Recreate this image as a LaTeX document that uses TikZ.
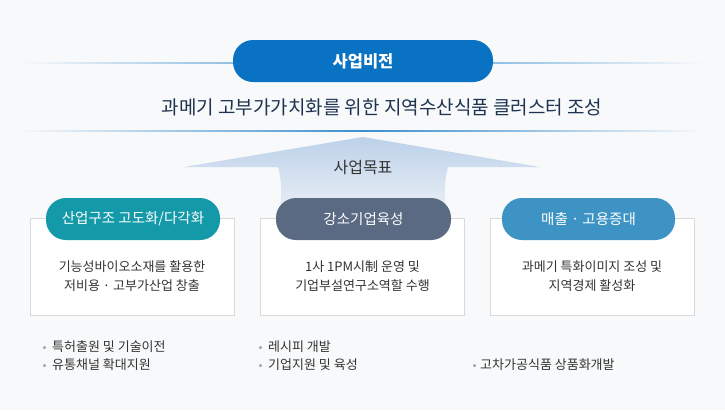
\documentclass[tikz,border=0pt]{standalone}
\usepackage{fontspec}
\setmainfont{Noto Sans CJK KR}
\begin{document}
\begin{tikzpicture}[x=1pt,y=-1pt]
\definecolor{bg}{HTML}{F8F9FA}
\definecolor{navy}{HTML}{1E3350}
\definecolor{txt}{HTML}{333333}
\definecolor{teal}{HTML}{1399A8}
\definecolor{slate}{HTML}{596A82}
\definecolor{sky}{HTML}{3D94C4}
\definecolor{vis}{HTML}{0A72C2}
\definecolor{arrowc}{HTML}{BCD1E9}
\tikzset{
  pill/.style={rounded corners=20pt,minimum height=42pt,text=white,font=\fontsize{14.5}{16}\selectfont,inner sep=0pt},
  card/.style={draw=black!15,fill=white,minimum width=204pt,minimum height=97pt,inner sep=0pt},
  cardtxt/.style={align=center,font=\fontsize{13}{19}\selectfont,text=txt},
  bul/.style={anchor=west,font=\fontsize{13}{14}\selectfont,text=txt,inner sep=0pt},
  hline/.style={line width=0.8pt}
}
\fill[bg] (0,0) rectangle (725,410);
\useasboundingbox (0,0) rectangle (725,410);
% lines
\shade[left color=bg,right color=vis!70] (20,62.5) rectangle (363,63.5);
\shade[left color=vis!70,right color=bg] (363,62.5) rectangle (705,63.5);
\shade[left color=bg,right color=vis!80] (20,130.5) rectangle (363,131.5);
\shade[left color=vis!80,right color=bg] (363,130.5) rectangle (705,131.5);
% arrow
\shade[top color=arrowc,bottom color=bg] (363,137) -- (540,167) -- (448,167)
  .. controls (442,190) and (445,210) .. (452,235) -- (274,235)
  .. controls (281,210) and (284,190) .. (278,167) -- (184,167) -- cycle;
\node[text=txt,font=\fontsize{16}{18}\selectfont] (goal) at (363,168) {사업목표};
% vision
\node[pill,fill=vis,minimum width=260pt,font=\fontsize{16.5}{18}\bfseries\selectfont] (vision) at (363,61) {사업비전};
\node[text=navy,font=\fontsize{19}{22}\selectfont] (sub) at (382,107) {과메기 고부가가치화를 위한 지역수산식품 클러스터 조성};
% cards
\node[card] (c1) at (132,266.5) {};
\node[card] (c2) at (362.5,266.5) {};
\node[card] (c3) at (592,266.5) {};
\node[pill,fill=teal,minimum width=174pt] (p1) at (133,219) {산업구조 고도화/다각화};
\node[pill,fill=slate,minimum width=175pt] (p2) at (363.5,219) {강소기업육성};
\node[pill,fill=sky,minimum width=173pt] (p3) at (588.5,219) {매출 · 고용증대};
\node[cardtxt] (t1) at (132,276.5) {기능성바이오소재를 활용한\\저비용 · 고부가산업 창출};
\node[cardtxt] (t2) at (362.5,276.5) {1사 1PM시制 운영 및\\기업부설연구소역할 수행};
\node[cardtxt] (t3) at (592,276.5) {과메기 특화이미지 조성 및\\지역경제 활성화};
% bullets
\node[bul] (b1) at (40,347) {\textcolor{black!40}{\fontsize{9}{9}\selectfont▪}\hspace{3pt}특허출원 및 기술이전};
\node[bul] (b2) at (40,365) {\textcolor{black!40}{\fontsize{9}{9}\selectfont▪}\hspace{3pt}유통채널 확대지원};
\node[bul] (b3) at (256,347) {\textcolor{black!40}{\fontsize{9}{9}\selectfont▪}\hspace{3pt}레시피 개발};
\node[bul] (b4) at (256,365) {\textcolor{black!40}{\fontsize{9}{9}\selectfont▪}\hspace{3pt}기업지원 및 육성};
\node[bul] (b5) at (470,365) {\textcolor{black!40}{\fontsize{9}{9}\selectfont▪}\hspace{1pt}고차가공식품 상품화개발};
\end{tikzpicture}
\end{document}
